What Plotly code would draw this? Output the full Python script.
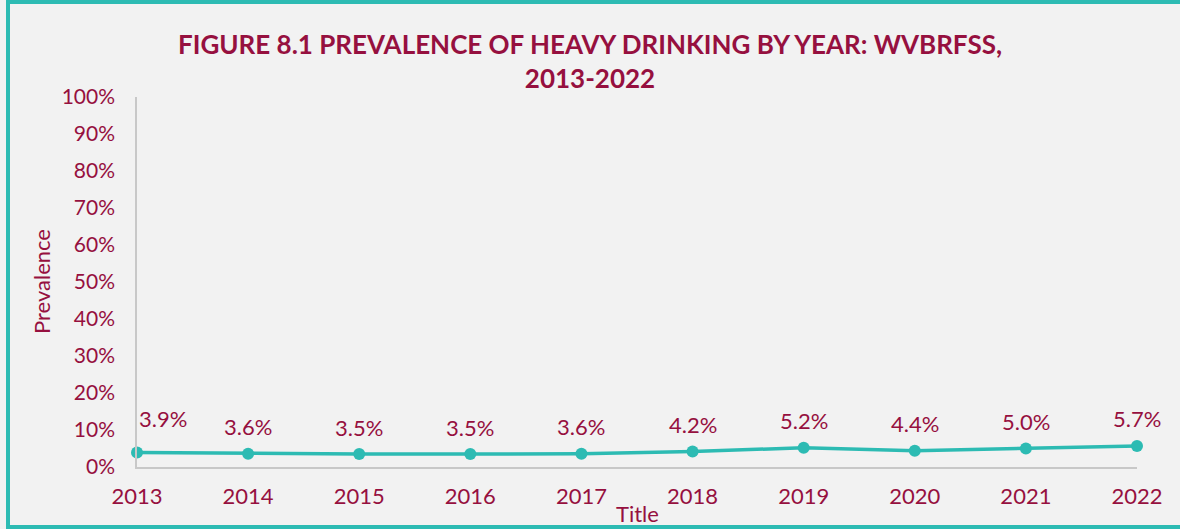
import plotly.graph_objects as go

years = [2013, 2014, 2015, 2016, 2017, 2018, 2019, 2020, 2021, 2022]
prevalence = [0.039, 0.036, 0.035, 0.035, 0.036, 0.042, 0.052, 0.044, 0.050, 0.057]
y_ticks = [0, 0.1, 0.2, 0.3, 0.4, 0.5, 0.6, 0.7, 0.8, 0.9, 1.0]
y_tick_labels = ["0%", "10%", "20%", "30%", "40%", "50%", "60%", "70%", "80%", "90%", "100%"]

TEAL = "#2dbbb3"
MAROON = "#96103f"
FONT = "Lato"

W, H = 1180, 529
ML, MR, MT, MB = 137, 43, 97, 62
PW, PH = W - ML - MR, H - MT - MB


def px_x(x):
    return (x - ML) / PW


def px_y(y):
    return (H - MB - y) / PH


fig = go.Figure()
fig.add_trace(go.Scatter(
    x=years, y=prevalence, mode="lines+markers",
    line=dict(color=TEAL, width=3.5),
    marker=dict(color=TEAL, size=12),
    cliponaxis=False, hoverinfo="skip", showlegend=False,
))

# value labels above each point
for i, (yr, v) in enumerate(zip(years, prevalence)):
    fig.add_annotation(
        x=yr, y=v, text=f"{v * 100:.1f}%", showarrow=False,
        yshift=34 if i == 0 else 27, xshift=26 if i == 0 else 0,
        font=dict(family=FONT, size=22, color=MAROON),
    )

fig.add_annotation(
    x=px_x(41), y=px_y(282), xref="paper", yref="paper",
    xanchor="center", yanchor="middle",
    text="Prevalence", textangle=-90, showarrow=False,
    font=dict(family=FONT, size=22, color=MAROON),
)
fig.add_annotation(
    x=px_x(637), y=px_y(513), xref="paper", yref="paper",
    xanchor="center", yanchor="middle",
    text="Title", showarrow=False,
    font=dict(family=FONT, size=22, color=MAROON),
)

# teal frame around the chart
fig.add_shape(
    type="rect", xref="paper", yref="paper",
    x0=px_x(8), x1=px_x(1192), y0=px_y(527), y1=px_y(2),
    line=dict(color=TEAL, width=4), fillcolor="rgba(0,0,0,0)", layer="above",
)

fig.update_layout(
    width=W, height=H,
    margin=dict(l=ML, r=MR, t=MT, b=MB),
    paper_bgcolor="#f2f2f2", plot_bgcolor="#f2f2f2",
    title=dict(
        text="<b>FIGURE 8.1 PREVALENCE OF HEAVY DRINKING BY YEAR: WVBRFSS,<br>2013-2022</b>",
        x=0.5, xanchor="center", y=1 - 54 / H, yanchor="middle",
        font=dict(family=FONT, size=26, color=MAROON),
    ),
    xaxis=dict(
        range=[2013, 2022], tickvals=years, ticktext=[str(y) for y in years],
        showgrid=False, zeroline=False, showline=True, linecolor="#c8c8c8", linewidth=1.5,
        tickfont=dict(family=FONT, size=22, color=MAROON), ticks="", ticklabelstandoff=9,
        fixedrange=True,
    ),
    yaxis=dict(
        range=[0, 1], tickvals=y_ticks, ticktext=y_tick_labels,
        showgrid=False, zeroline=False, showline=True, linecolor="#c8c8c8", linewidth=1.5,
        tickfont=dict(family=FONT, size=21, color=MAROON), ticks="", ticklabelstandoff=16,
        fixedrange=True,
    ),
)

fig.write_html("out.html")
